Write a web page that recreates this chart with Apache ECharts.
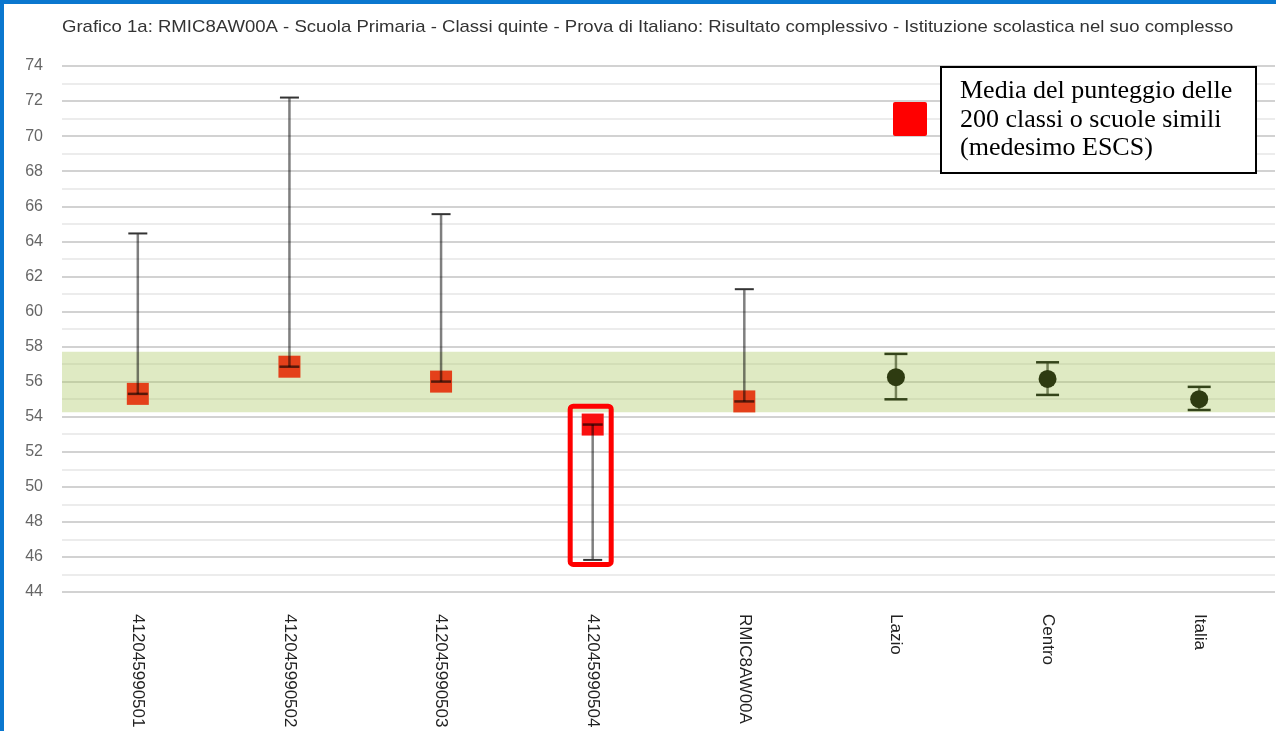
<!DOCTYPE html>
<html>
<head>
<meta charset="utf-8">
<script src="https://cdn.jsdelivr.net/npm/echarts@6/dist/echarts.min.js"></script>
<style>
html,body{margin:0;padding:0;background:#fff;}
#chart{position:absolute;left:0;top:0;width:1276px;height:731px;}
#bt{position:absolute;left:0;top:0;width:1276px;height:4px;background:#0a77cf;}
#bl{position:absolute;left:0;top:0;width:4px;height:731px;background:#0a77cf;}
</style>
</head>
<body>
<div id="chart"></div>
<div id="bt"></div>
<div id="bl"></div>
<script>
const titleText = 'Grafico 1a: RMIC8AW00A - Scuola Primaria - Classi quinte - Prova di Italiano: Risultato complessivo - Istituzione scolastica nel suo complesso';
const categories = ['412045990501','412045990502','412045990503','412045990504','RMIC8AW00A','Lazio','Centro','Italia'];
const classMeans   = [55.3, 56.85, 56.0, 53.55, 54.87, null, null, null];
const classBarEnds = [64.45, 72.2, 65.55, 45.83, 61.27, null, null, null];
const refMeans = [null, null, null, null, null, 56.25, 56.15, 55.0];
const refLow   = [null, null, null, null, null, 54.99, 55.24, 54.38];
const refHigh  = [null, null, null, null, null, 57.58, 57.1, 55.7];
const bandRange = [54.25, 57.7];
const highlightCategory = '412045990504';
const highlightRange = [45.57, 54.6];
const yMin = 44, yMax = 74, yInterval = 2;
const legendLines = ['Media del punteggio delle', '200 classi o scuole simili', '(medesimo ESCS)'];

const hiIdx = categories.indexOf(highlightCategory);
const squareData = [];
const classBarData = [];
classMeans.forEach((m, i) => {
  if (m == null) return;
  squareData.push({value: [i, m], itemStyle: {color: i === hiIdx ? '#fa1010' : '#e4401a'}});
  classBarData.push([i, m, classBarEnds[i]]);
});
const refData = [];
const refBarData = [];
refMeans.forEach((m, i) => {
  if (m == null) return;
  refData.push([i, m]);
  refBarData.push([i, refLow[i], refHigh[i]]);
});

const chart = echarts.init(document.getElementById('chart'));
chart.setOption({
  animation: false,
  grid: {left: 62, right: 1, top: 66, bottom: 139},
  xAxis: {
    type: 'category', data: categories, boundaryGap: true,
    axisLine: {show: false}, axisTick: {show: false}, splitLine: {show: false},
    axisLabel: {rotate: -90, margin: 22, fontFamily: 'Liberation Sans, Arial, sans-serif', fontSize: 17, color: '#222', interval: 0}
  },
  yAxis: {
    type: 'value', min: yMin, max: yMax, interval: yInterval,
    axisLine: {show: false}, axisTick: {show: false},
    axisLabel: {margin: 19, fontFamily: 'Liberation Sans, Arial, sans-serif', fontSize: 16, color: '#666'},
    splitLine: {show: true, lineStyle: {color: '#d2d2d2', width: 2}},
    minorTick: {show: false, splitNumber: 2},
    minorSplitLine: {show: true, lineStyle: {color: '#ececec', width: 2}}
  },
  series: [
    {
      type: 'scatter', name: 'band', data: [], silent: true, z: 1,
      markArea: {
        silent: true,
        itemStyle: {color: 'rgba(175,202,105,0.4)'},
        data: [[{yAxis: bandRange[0]}, {yAxis: bandRange[1]}]]
      }
    },
    {
      type: 'scatter', name: 'classi', data: squareData,
      symbol: 'rect', symbolSize: 22, z: 3,
      itemStyle: {opacity: 1}
    },
    {
      type: 'custom', name: 'classBars', data: classBarData, z: 4,
      encode: {x: 0, y: [1, 2]},
      renderItem: function (params, api) {
        const x = api.value(0), m = api.value(1), e = api.value(2);
        const pm = api.coord([x, m]);
        const pe = api.coord([x, e]);
        return {type: 'group', children: [
          {type: 'line', shape: {x1: pm[0], y1: pm[1], x2: pe[0], y2: pe[1]}, style: {stroke: 'rgba(0,0,0,0.5)', lineWidth: 2.5}},
          {type: 'line', shape: {x1: pe[0] - 9.5, y1: pe[1], x2: pe[0] + 9.5, y2: pe[1]}, style: {stroke: '#333', lineWidth: 2}},
          {type: 'line', shape: {x1: pm[0] - 10, y1: pm[1], x2: pm[0] + 10, y2: pm[1]}, style: {stroke: 'rgba(0,0,0,0.62)', lineWidth: 2.5}}
        ]};
      }
    },
    {
      type: 'custom', name: 'refBars', data: refBarData, z: 3,
      encode: {x: 0, y: [1, 2]},
      renderItem: function (params, api) {
        const x = api.value(0);
        const pl = api.coord([x, api.value(1)]);
        const ph = api.coord([x, api.value(2)]);
        return {type: 'group', children: [
          {type: 'line', shape: {x1: pl[0], y1: pl[1], x2: ph[0], y2: ph[1]}, style: {stroke: 'rgba(47,62,18,0.6)', lineWidth: 2.5}},
          {type: 'line', shape: {x1: pl[0] - 11.5, y1: pl[1], x2: pl[0] + 11.5, y2: pl[1]}, style: {stroke: '#34441a', lineWidth: 2.5}},
          {type: 'line', shape: {x1: ph[0] - 11.5, y1: ph[1], x2: ph[0] + 11.5, y2: ph[1]}, style: {stroke: '#34441a', lineWidth: 2.5}}
        ]};
      }
    },
    {
      type: 'scatter', name: 'riferimento', data: refData,
      symbol: 'circle', symbolSize: 18, z: 5,
      itemStyle: {color: '#2e3b11', opacity: 1}
    },
    {
      type: 'custom', name: 'highlight', z: 6,
      data: [[hiIdx, highlightRange[0], highlightRange[1]]],
      encode: {x: 0, y: [1, 2]},
      renderItem: function (params, api) {
        const x = api.value(0);
        const pl = api.coord([x, api.value(1)]);
        const ph = api.coord([x, api.value(2)]);
        return {type: 'rect', shape: {x: ph[0] - 22.5, y: ph[1], width: 41, height: pl[1] - ph[1], r: 3},
          style: {fill: 'none', stroke: '#ff0000', lineWidth: 5}};
      }
    }
  ],
  graphic: [
    {type: 'text', x: 62, y: 27, scaleX: 1.092, z: 10,
      style: {text: titleText, fontFamily: 'Liberation Sans, Arial, sans-serif', fontSize: 17, fill: '#333', textVerticalAlign: 'middle'}},
    {type: 'rect', left: 893, top: 102, shape: {width: 34, height: 34, r: 2}, style: {fill: '#ff0000'}, z: 10},
    {type: 'rect', left: 940, top: 66, shape: {width: 315, height: 106}, style: {fill: '#fff', stroke: '#000', lineWidth: 2}, z: 10},
    {type: 'text', left: 960, top: 77, z: 11,
      style: {text: legendLines.join('\n'), fontFamily: 'Liberation Serif, Times New Roman, serif', fontSize: 26, lineHeight: 28.5, fill: '#000'}}
  ]
});
</script>
</body>
</html>
